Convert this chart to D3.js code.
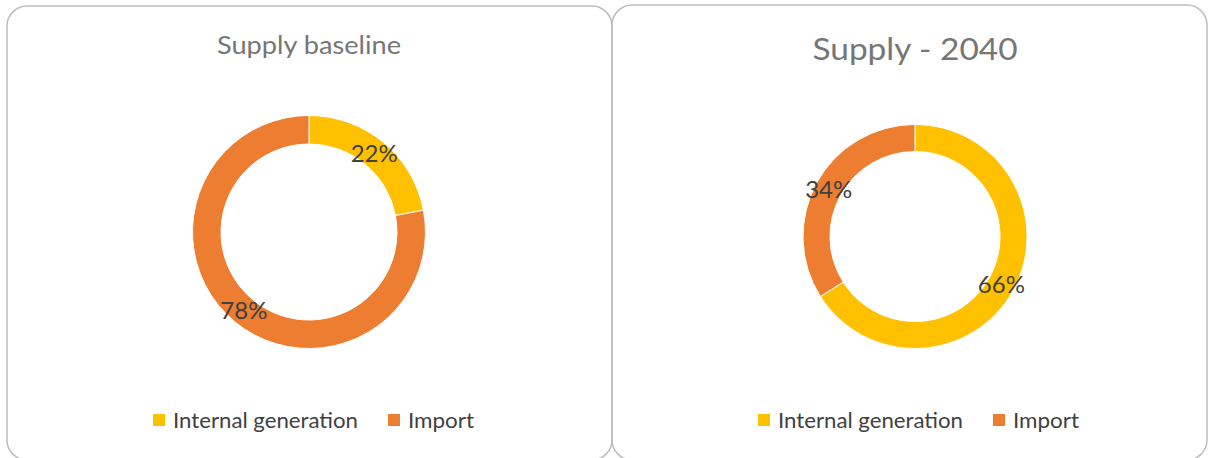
<!DOCTYPE html>
<html>
<head>
<meta charset="utf-8">
<script src="https://cdn.jsdelivr.net/npm/d3@7"></script>
<style>
  html, body { margin: 0; padding: 0; background: #ffffff; }
  svg { display: block; font-family: Lato, "Open Sans", sans-serif; }
</style>
</head>
<body>
<svg id="chart" width="1208" height="458"></svg>
<script>
// Supply mix: share of internal generation vs. import
const categories = ["Internal generation", "Import"];
const chartTitles = ["Supply baseline", "Supply - 2040"];
const baselineValues = [22, 78];
const values2040 = [66, 34];
const seriesColors = ["#FFC000", "#ED7D31"];

const svg = d3.select("#chart");
const color = d3.scaleOrdinal().domain(categories).range(seriesColors);

const panels = [
  { title: chartTitles[0], values: baselineValues,
    box: { x: 7, y: 6, w: 605, h: 454 },
    cx: 309, cy: 232, outer: 116.5, inner: 88,
    titleY: 54, titleSize: 25, titleW: 184,
    legendX: 153 },
  { title: chartTitles[1], values: values2040,
    box: { x: 612, y: 5, w: 595, h: 455 },
    cx: 915, cy: 236.5, outer: 112, inner: 85,
    titleY: 60, titleSize: 31, titleW: 205,
    legendX: 758 }
];

const pie = d3.pie().sort(null).value(d => d.value).startAngle(0).endAngle(2 * Math.PI);

panels.forEach(p => {
  const g = svg.append("g");

  // rounded chart frame
  g.append("rect")
    .attr("x", p.box.x).attr("y", p.box.y)
    .attr("width", p.box.w).attr("height", p.box.h)
    .attr("rx", 20).attr("ry", 20)
    .attr("fill", "none")
    .attr("stroke", "#bdbdbd")
    .attr("stroke-width", 1.5);

  // title
  g.append("text")
    .attr("x", p.cx).attr("y", p.titleY)
    .attr("text-anchor", "middle")
    .attr("font-size", p.titleSize)
    .attr("fill", "#767676")
    .attr("textLength", p.titleW)
    .attr("lengthAdjust", "spacingAndGlyphs")
    .text(p.title);

  const data = categories.map((c, i) => ({ category: c, value: p.values[i] }));
  const arcs = pie(data);
  const arc = d3.arc().innerRadius(p.inner).outerRadius(p.outer);
  const total = d3.sum(p.values);

  const ring = g.append("g").attr("transform", `translate(${p.cx},${p.cy})`);
  ring.selectAll("path")
    .data(arcs)
    .join("path")
    .attr("d", arc)
    .attr("fill", d => color(d.data.category))
    .attr("stroke", "#ffffff")
    .attr("stroke-width", 1);

  ring.selectAll("text")
    .data(arcs)
    .join("text")
    .attr("transform", d => `translate(${arc.centroid(d)})`)
    .attr("text-anchor", "middle")
    .attr("dy", "0.36em")
    .attr("font-size", 24)
    .attr("fill", "#404040")
    .text(d => d3.format(".0%")(d.data.value / total));

  // legend
  const legend = g.append("g").attr("transform", `translate(${p.legendX},0)`);
  const itemOffsets = [0, 235];
  const textWidths = [185, 66];
  categories.forEach((c, i) => {
    const item = legend.append("g").attr("transform", `translate(${itemOffsets[i]},0)`);
    item.append("rect")
      .attr("x", 0).attr("y", 414)
      .attr("width", 12).attr("height", 12)
      .attr("fill", color(c));
    item.append("text")
      .attr("x", 20).attr("y", 428)
      .attr("font-size", 21)
      .attr("fill", "#404040")
      .attr("textLength", textWidths[i])
      .attr("lengthAdjust", "spacingAndGlyphs")
      .text(c);
  });
});
</script>
</body>
</html>
